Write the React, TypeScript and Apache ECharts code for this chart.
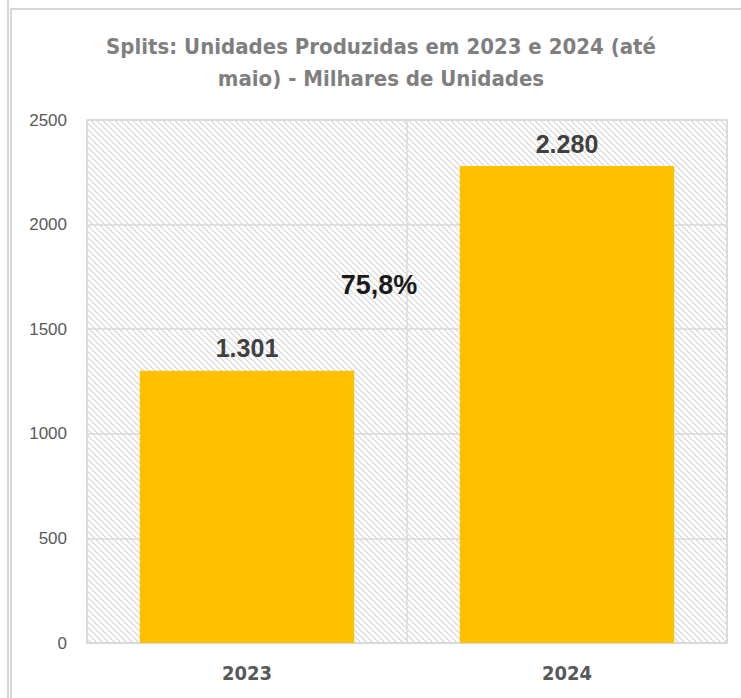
import React, { useEffect, useRef } from "react";
import * as echarts from "echarts";

const categories = ["2023", "2024"];
const values = [1301, 2280];
const growthLabel = "75,8%";
const titleLines = ["Splits: Unidades Produzidas em 2023 e 2024 (até", "maio) - Milhares de Unidades"];
const yTicks = { min: 0, max: 2500, interval: 500 };

function makeHatch(): HTMLCanvasElement {
  const c = document.createElement("canvas");
  const n = 6;
  c.width = n;
  c.height = n;
  const ctx = c.getContext("2d")!;
  ctx.fillStyle = "#ffffff";
  ctx.fillRect(0, 0, n, n);
  for (let y = 0; y < n; y++) {
    for (let x = 0; x < n; x++) {
      const d = (((x - y) % n) + n) % n;
      if (d === 0) {
        ctx.fillStyle = "#d6d6d6";
        ctx.fillRect(x, y, 1, 1);
      } else if (d === 1) {
        ctx.fillStyle = "#e8e8e8";
        ctx.fillRect(x, y, 1, 1);
      }
    }
  }
  return c;
}

function fmt(v: number): string {
  return v.toString().replace(/\B(?=(\d{3})+(?!\d))/g, ".");
}

export default function App() {
  const ref = useRef<HTMLDivElement>(null);
  useEffect(() => {
    if (!ref.current) return;
    const chart = echarts.init(ref.current, null, { renderer: "svg" });
    const hatch = makeHatch();
    const narrow = "'Liberation Sans Narrow', 'DejaVu Sans Condensed', 'Arial Narrow', sans-serif";
    const arial = "'Liberation Sans', Arial, sans-serif";
    chart.setOption({
      animation: false,
      backgroundColor: "#ffffff",
      grid: {
        left: 87,
        right: 14,
        top: 120,
        bottom: 55,
        show: true,
        borderColor: "#d9d9d9",
        borderWidth: 1.5,
        backgroundColor: { image: hatch, repeat: "repeat" },
      },
      graphic: [
        { type: "rect", shape: { x: 7, y: 0, width: 2, height: 698 }, style: { fill: "#d6d6d6" }, silent: true },
        { type: "rect", shape: { x: 10, y: 8, width: 2, height: 690 }, style: { fill: "#d6d6d6" }, silent: true },
        { type: "rect", shape: { x: 10, y: 8, width: 731, height: 2 }, style: { fill: "#d6d6d6" }, silent: true },
        {
          type: "text",
          x: 381,
          y: 30,
          style: {
            text: titleLines.join("\n"),
            fill: "#7f7f7f",
            font: "bold 22px " + narrow,
            textAlign: "center",
            lineHeight: 32,
          },
          silent: true,
        },
        {
          type: "text",
          x: 379,
          y: 285,
          z: 10,
          style: {
            text: growthLabel,
            fill: "#1a1a1a",
            font: "bold 27px " + arial,
            textAlign: "center",
            textVerticalAlign: "middle",
          },
          silent: true,
        },
      ],
      xAxis: {
        type: "category",
        data: categories,
        boundaryGap: true,
        axisLine: { show: true, lineStyle: { color: "#d9d9d9", width: 1.5 } },
        axisTick: { show: false },
        splitLine: { show: true, lineStyle: { color: "#d9d9d9", width: 1.5 } },
        axisLabel: {
          color: "#595959",
          fontSize: 20,
          fontWeight: "bold",
          fontFamily: narrow,
          margin: 20,
        },
      },
      yAxis: {
        type: "value",
        min: yTicks.min,
        max: yTicks.max,
        interval: yTicks.interval,
        axisLine: { show: false },
        axisTick: { show: false },
        splitLine: { show: true, lineStyle: { color: "#d9d9d9", width: 1.5 } },
        axisLabel: {
          color: "#595959",
          fontSize: 17,
          fontFamily: arial,
          margin: 20,
          formatter: (v: number) => String(v),
        },
      },
      series: [
        {
          type: "bar",
          data: values,
          barWidth: "67%",
          itemStyle: { color: "#ffc000" },
          label: {
            show: true,
            position: "top",
            distance: 10,
            color: "#404040",
            fontSize: 25,
            fontWeight: "bold",
            fontFamily: arial,
            formatter: (p: any) => fmt(p.value),
          },
        },
      ],
    });
    return () => chart.dispose();
  }, []);
  return <div ref={ref} style={{ position: "fixed", left: 0, top: 0, width: 741, height: 698 }} />;
}
